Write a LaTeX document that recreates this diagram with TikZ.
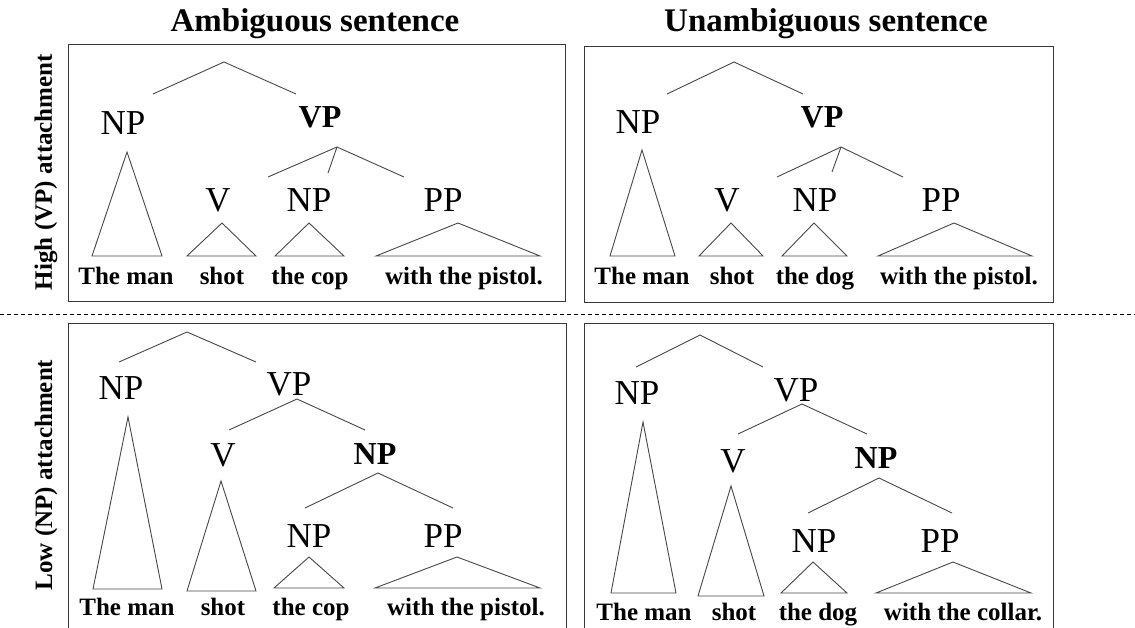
\documentclass[tikz,border=0pt]{standalone}
\usepackage{fontspec}
\setmainfont{Liberation Serif}
\tikzset{
  cat/.style={anchor=base, inner sep=0pt, font=\fontsize{35}{40}\selectfont},
  catb/.style={anchor=base, inner sep=0pt, font=\fontsize{32}{36}\selectfont\bfseries},
  word/.style={anchor=base, inner sep=0pt, font=\fontsize{25}{30}\selectfont\bfseries},
  heading/.style={anchor=base, inner sep=0pt, font=\fontsize{33}{38}\selectfont\bfseries},
  side/.style={rotate=90, inner sep=0pt, font=\fontsize{25}{30}\selectfont\bfseries},
  branch/.style={draw=black!72, line width=0.9pt},
  tri/.style={draw=black!72, line width=0.9pt},
  panel/.style={draw=black!78, line width=1pt}
}

\begin{document}
\begin{tikzpicture}[x=1pt,y=-1pt]
\useasboundingbox (0,0) rectangle (1135,628);

\node[heading] (amb) at (315,32) {Ambiguous sentence};
\node[heading] (unamb) at (826,32) {Unambiguous sentence};
\node[side] (high) at (46,172) {High (VP) attachment};
\node[side] (low) at (46,475) {Low (NP) attachment};

\draw[panel] (68,45) rectangle (565,302);
\draw[panel] (584,47) rectangle (1053,303);
\draw[panel] (68,628) -- (68,323) -- (566,323) -- (566,628);
\draw[panel] (584,628) -- (584,323) -- (1053,323) -- (1053,628);
\draw[black, line width=0.9pt, dash pattern=on 4pt off 3pt] (0,314) -- (1135,314);

% high attachment, ambiguous
\coordinate (aS) at (224,62);
\coordinate (aSl) at (153,94);
\coordinate (aSr) at (296,94);
\draw[branch] (aSl) -- (aS) -- (aSr);
\node[cat] (aNP) at (123,135) {NP};
\node[catb] (aVP) at (320,128) {VP};
\draw[tri] (127,152) -- (92,256) -- (162,256) -- cycle;
\coordinate (aV1) at (337,147);
\coordinate (aV1l) at (268,177);
\coordinate (aV1m) at (328,173);
\coordinate (aV1r) at (404,177);
\draw[branch] (aV1l) -- (aV1) -- (aV1r);
\draw[branch] (aV1) -- (aV1m);
\node[cat] (aV) at (218,212) {V};
\node[cat] (aNP2) at (309,212) {NP};
\node[cat] (aPP) at (443,212) {PP};
\draw[tri] (222,223) -- (187,256) -- (256,256) -- cycle;
\draw[tri] (309,223) -- (275,256) -- (344,256) -- cycle;
\draw[tri] (458,223) -- (376,256) -- (540,256) -- cycle;
\node[word] (aw1) at (126,285) {The man};
\node[word] (aw2) at (222,285) {shot};
\node[word] (aw3) at (310,285) {the cop};
\node[word] (aw4) at (464,285) {with the pistol.};

% high attachment, unambiguous
\coordinate (bS) at (734,62);
\coordinate (bSl) at (667,94);
\coordinate (bSr) at (803,94);
\draw[branch] (bSl) -- (bS) -- (bSr);
\node[cat] (bNP) at (638,134) {NP};
\node[catb] (bVP) at (822,128) {VP};
\draw[tri] (642,150) -- (610,256) -- (675,256) -- cycle;
\coordinate (bV1) at (841,147);
\coordinate (bV1l) at (777,177);
\coordinate (bV1m) at (832,172);
\coordinate (bV1r) at (903,177);
\draw[branch] (bV1l) -- (bV1) -- (bV1r);
\draw[branch] (bV1) -- (bV1m);
\node[cat] (bV) at (727,212) {V};
\node[cat] (bNP2) at (815,212) {NP};
\node[cat] (bPP) at (941,212) {PP};
\draw[tri] (731,223) -- (699,256) -- (763,256) -- cycle;
\draw[tri] (814,223) -- (782,256) -- (847,256) -- cycle;
\draw[tri] (954,223) -- (878,256) -- (1032,256) -- cycle;
\node[word] (bw1) at (642,285) {The man};
\node[word] (bw2) at (732,285) {shot};
\node[word] (bw3) at (815,285) {the dog};
\node[word] (bw4) at (959,285) {with the pistol.};

% low attachment, ambiguous
\coordinate (cS) at (187,332);
\coordinate (cSl) at (119,362);
\coordinate (cSr) at (256,362);
\draw[branch] (cSl) -- (cS) -- (cSr);
\node[cat] (cNP) at (121,399) {NP};
\node[cat] (cVP) at (289,395) {VP};
\draw[tri] (128,417) -- (93,589) -- (162,589) -- cycle;
\coordinate (cV1) at (297,399);
\coordinate (cV1l) at (229,430);
\coordinate (cV1r) at (365,430);
\draw[branch] (cV1l) -- (cV1) -- (cV1r);
\node[cat] (cV) at (223,466) {V};
\node[catb] (cNPb) at (375,464) {NP};
\draw[tri] (221,481) -- (187,591) -- (256,591) -- cycle;
\coordinate (cN1) at (378,473);
\coordinate (cN1l) at (305,508);
\coordinate (cN1r) at (453,508);
\draw[branch] (cN1l) -- (cN1) -- (cN1r);
\node[cat] (cNP2) at (309,547) {NP};
\node[cat] (cPP) at (443,547) {PP};
\draw[tri] (309,557) -- (274,588) -- (344,588) -- cycle;
\draw[tri] (457,557) -- (375,588) -- (540,588) -- cycle;
\node[word] (cw1) at (127,615) {The man};
\node[word] (cw2) at (223,615) {shot};
\node[word] (cw3) at (311,615) {the cop};
\node[word] (cw4) at (466,615) {with the pistol.};

% low attachment, unambiguous
\coordinate (dS) at (700,335);
\coordinate (dSl) at (636,367);
\coordinate (dSr) at (763,367);
\draw[branch] (dSl) -- (dS) -- (dSr);
\node[cat] (dNP) at (637,404) {NP};
\node[cat] (dVP) at (796,401) {VP};
\draw[tri] (643,422) -- (611,593) -- (676,593) -- cycle;
\coordinate (dV1) at (802,404);
\coordinate (dV1l) at (738,434);
\coordinate (dV1r) at (867,434);
\draw[branch] (dV1l) -- (dV1) -- (dV1r);
\node[cat] (dV) at (733,472) {V};
\node[catb] (dNPb) at (876,468) {NP};
\draw[tri] (731,486) -- (698,596) -- (764,596) -- cycle;
\coordinate (dN1) at (879,478);
\coordinate (dN1l) at (808,513);
\coordinate (dN1r) at (952,513);
\draw[branch] (dN1l) -- (dN1) -- (dN1r);
\node[cat] (dNP2) at (814,552) {NP};
\node[cat] (dPP) at (940,552) {PP};
\draw[tri] (813,562) -- (781,593) -- (847,593) -- cycle;
\draw[tri] (953,562) -- (876,593) -- (1031,593) -- cycle;
\node[word] (dw1) at (644,620) {The man};
\node[word] (dw2) at (734,620) {shot};
\node[word] (dw3) at (818,620) {the dog};
\node[word] (dw4) at (963,620) {with the collar.};
\end{tikzpicture}
\end{document}
